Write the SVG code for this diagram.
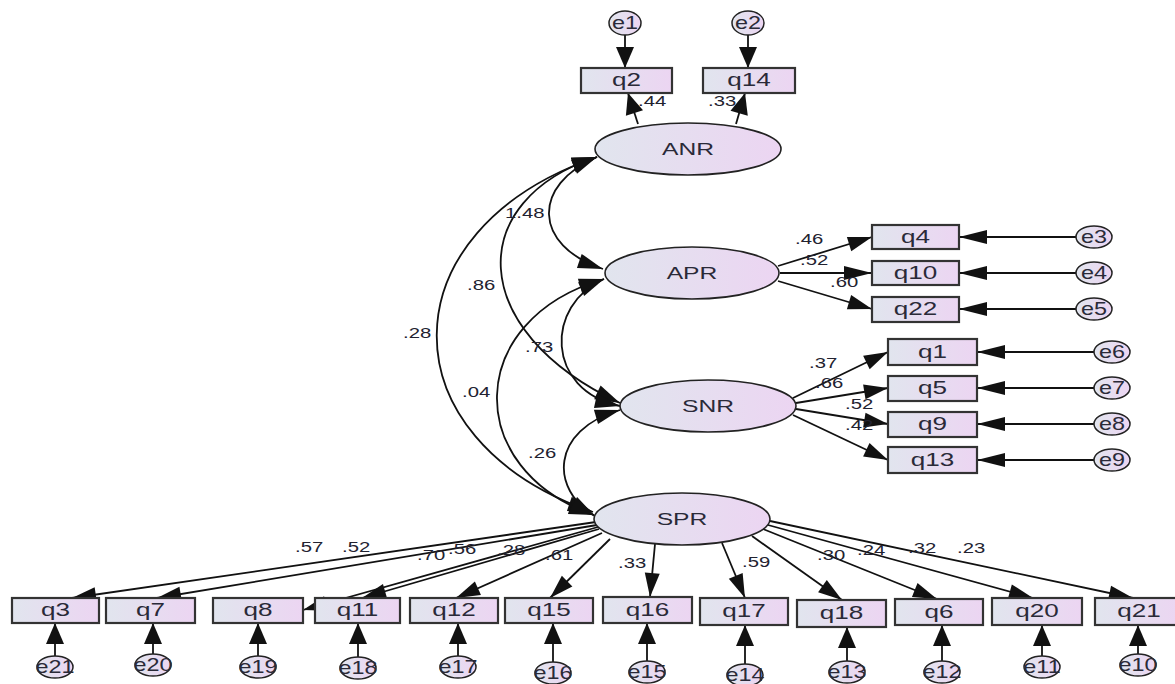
<svg xmlns="http://www.w3.org/2000/svg" width="1175" height="684" viewBox="0 0 1175 684">
<style>
.bx{fill:url(#g);stroke:#333;stroke-width:2.2}
.el{fill:url(#g);stroke:#222;stroke-width:1.6}
.er{fill:url(#g);stroke:#222;stroke-width:1.5}
.c{fill:none;stroke:#111;stroke-width:1.8}
.h{marker-end:url(#ah)}
.v{marker-end:url(#av)}
.d{marker-end:url(#ad)}
.dd{marker-start:url(#ac);marker-end:url(#ac)}
text{font-family:"Liberation Sans",Arial,sans-serif;}
.t{font-size:18px;fill:#2a2a38;text-anchor:middle}
.n{font-size:17px;fill:#2a2a38;text-anchor:middle}
.lb{font-size:14px;fill:#222230}
</style>
<defs>
<linearGradient id="g" x1="0" y1="0" x2="1" y2="0">
<stop offset="0" stop-color="#e1e5ee"/>
<stop offset="1" stop-color="#ecd5f2"/>
</linearGradient>
<marker id="ah" markerUnits="userSpaceOnUse" markerWidth="28" markerHeight="14" refX="28" refY="7" orient="auto" overflow="visible"><path d="M0,0 L28,7 L0,14 z" fill="#111"/></marker>
<marker id="av" markerUnits="userSpaceOnUse" markerWidth="21" markerHeight="18" refX="21" refY="9" orient="auto" overflow="visible"><path d="M0,0 L21,9 L0,18 z" fill="#111"/></marker>
<marker id="ad" markerUnits="userSpaceOnUse" markerWidth="24" markerHeight="15" refX="24" refY="7.5" orient="auto" overflow="visible"><path d="M0,0 L24,7.5 L0,15 z" fill="#111"/></marker>
<marker id="ac" markerUnits="userSpaceOnUse" markerWidth="25" markerHeight="15" refX="25" refY="7.5" orient="auto-start-reverse" overflow="visible"><path d="M0,0 L25,7.5 L0,15 z" fill="#111"/></marker>
</defs>
<rect width="1175" height="684" fill="#fff"/>

<g id="connectors">
<!-- ANR -->
<path class="c v" d="M625,35 L625,68"/>
<path class="c v" d="M748,35 L748,68"/>
<path class="c v" d="M638,124 L628,93"/>
<path class="c v" d="M736,124 L745,93"/>
<!-- covariances -->
<path class="c dd" d="M597,157 C532,185 532,245 603,269"/>
<path class="c dd" d="M597,157 C465,200 465,330 620,403"/>
<path class="c dd" d="M597,157 C384,230 384,440 593,512"/>
<path class="c dd" d="M604,279 C545,305 545,390 620,406"/>
<path class="c dd" d="M604,279 C463,320 463,470 594,515"/>
<path class="c dd" d="M620,410 C550,430 550,490 595,516"/>
<!-- APR -->
<path class="c d" d="M778,266 L872,237"/>
<path class="c h" d="M780,273 L872,273"/>
<path class="c d" d="M778,281 L872,309"/>
<path class="c h" d="M1076,237 L959,237"/>
<path class="c h" d="M1076,273 L959,273"/>
<path class="c h" d="M1076,309 L959,309"/>
<!-- SNR -->
<path class="c d" d="M793,398 L888,352"/>
<path class="c d" d="M796,403 L888,388"/>
<path class="c d" d="M796,409 L888,424"/>
<path class="c d" d="M793,415 L888,460"/>
<path class="c h" d="M1094,352 L977,352"/>
<path class="c h" d="M1094,388 L977,388"/>
<path class="c h" d="M1094,424 L977,424"/>
<path class="c h" d="M1094,460 L977,460"/>
<!-- SPR -->
<path class="c d" d="M596,522 L72,598"/>
<path class="c d" d="M597,525 L157,598"/>
<path class="c d" d="M598,527 L303,610"/>
<path class="c d" d="M599,529 L362,598"/>
<path class="c d" d="M602,533 L456,598"/>
<path class="c d" d="M610,539 L550,598"/>
<path class="c d" d="M655,544 L650,597"/>
<path class="c d" d="M722,543 L745,598"/>
<path class="c d" d="M752,536 L842,600"/>
<path class="c d" d="M763,529 L937,599"/>
<path class="c d" d="M768,525 L1033,598"/>
<path class="c d" d="M770,521 L1133,598"/>
<!-- bottom errors -->
<path class="c v" d="M55,656 L55,623"/>
<path class="c v" d="M153,654 L153,623"/>
<path class="c v" d="M258,656 L258,623"/>
<path class="c v" d="M358,657 L358,623"/>
<path class="c v" d="M458,656 L458,623"/>
<path class="c v" d="M553,662 L553,623"/>
<path class="c v" d="M647,661 L647,623"/>
<path class="c v" d="M745,664 L745,625"/>
<path class="c v" d="M847,661 L847,627"/>
<path class="c v" d="M942,661 L942,625"/>
<path class="c v" d="M1042,656 L1042,625"/>
<path class="c v" d="M1138,654 L1138,625"/>
</g>

<g id="ANR"><ellipse class="el" cx="688" cy="149" rx="93" ry="26"/><text class="n" transform="translate(688 155) scale(1.45 1)">ANR</text></g>
<g id="APR"><ellipse class="el" cx="692" cy="273" rx="87" ry="26"/><text class="n" transform="translate(692 279) scale(1.45 1)">APR</text></g>
<g id="SNR"><ellipse class="el" cx="708" cy="406" rx="88" ry="26"/><text class="n" transform="translate(708 412) scale(1.45 1)">SNR</text></g>
<g id="SPR"><ellipse class="el" cx="682" cy="519" rx="88" ry="26"/><text class="n" transform="translate(682 525) scale(1.45 1)">SPR</text></g>

<g id="q2"><rect class="bx" x="581" y="68" width="91" height="25"/><text class="t" transform="translate(626.5 86) scale(1.45 1)">q2</text></g>
<g id="q14"><rect class="bx" x="703" y="68" width="92" height="25"/><text class="t" transform="translate(749 86) scale(1.45 1)">q14</text></g>
<g id="q4"><rect class="bx" x="872" y="225" width="87" height="24"/><text class="t" transform="translate(915.5 243) scale(1.45 1)">q4</text></g>
<g id="q10"><rect class="bx" x="872" y="261" width="87" height="24"/><text class="t" transform="translate(915.5 279) scale(1.45 1)">q10</text></g>
<g id="q22"><rect class="bx" x="872" y="297" width="87" height="25"/><text class="t" transform="translate(915.5 315) scale(1.45 1)">q22</text></g>
<g id="q1"><rect class="bx" x="888" y="339" width="89" height="26"/><text class="t" transform="translate(932.5 358) scale(1.45 1)">q1</text></g>
<g id="q5"><rect class="bx" x="888" y="376" width="89" height="25"/><text class="t" transform="translate(932.5 394) scale(1.45 1)">q5</text></g>
<g id="q9"><rect class="bx" x="888" y="412" width="89" height="25"/><text class="t" transform="translate(932.5 430) scale(1.45 1)">q9</text></g>
<g id="q13"><rect class="bx" x="888" y="447" width="89" height="26"/><text class="t" transform="translate(932.5 466) scale(1.45 1)">q13</text></g>

<g id="q3"><rect class="bx" x="12" y="598" width="87" height="25"/><text class="t" transform="translate(55.5 616) scale(1.45 1)">q3</text></g>
<g id="q7"><rect class="bx" x="106" y="598" width="89" height="25"/><text class="t" transform="translate(150.5 616) scale(1.45 1)">q7</text></g>
<g id="q8"><rect class="bx" x="213" y="598" width="90" height="25"/><text class="t" transform="translate(258 616) scale(1.45 1)">q8</text></g>
<g id="q11"><rect class="bx" x="315" y="598" width="85" height="25"/><text class="t" transform="translate(357.5 616) scale(1.45 1)">q11</text></g>
<g id="q12"><rect class="bx" x="410" y="598" width="88" height="25"/><text class="t" transform="translate(454 616) scale(1.45 1)">q12</text></g>
<g id="q15"><rect class="bx" x="505" y="598" width="88" height="25"/><text class="t" transform="translate(549 616) scale(1.45 1)">q15</text></g>
<g id="q16"><rect class="bx" x="603" y="597" width="89" height="26"/><text class="t" transform="translate(647.5 616) scale(1.45 1)">q16</text></g>
<g id="q17"><rect class="bx" x="700" y="598" width="88" height="27"/><text class="t" transform="translate(744 617) scale(1.45 1)">q17</text></g>
<g id="q18"><rect class="bx" x="797" y="600" width="89" height="27"/><text class="t" transform="translate(841.5 619) scale(1.45 1)">q18</text></g>
<g id="q6"><rect class="bx" x="895" y="599" width="88" height="26"/><text class="t" transform="translate(939 618) scale(1.45 1)">q6</text></g>
<g id="q20"><rect class="bx" x="992" y="598" width="90" height="27"/><text class="t" transform="translate(1037 617) scale(1.45 1)">q20</text></g>
<g id="q21"><rect class="bx" x="1095" y="598" width="88" height="27"/><text class="t" transform="translate(1139 617) scale(1.45 1)">q21</text></g>

<g id="e1"><ellipse class="er" cx="625" cy="23" rx="16" ry="12"/><text class="t" transform="translate(625 29) scale(1.3 1)">e1</text></g>
<g id="e2"><ellipse class="er" cx="748" cy="23" rx="16" ry="12"/><text class="t" transform="translate(748 29) scale(1.3 1)">e2</text></g>
<g id="e3"><ellipse class="er" cx="1094" cy="237" rx="18" ry="11"/><text class="t" transform="translate(1094 243) scale(1.3 1)">e3</text></g>
<g id="e4"><ellipse class="er" cx="1094" cy="273" rx="18" ry="11"/><text class="t" transform="translate(1094 279) scale(1.3 1)">e4</text></g>
<g id="e5"><ellipse class="er" cx="1094" cy="309" rx="18" ry="11"/><text class="t" transform="translate(1094 315) scale(1.3 1)">e5</text></g>
<g id="e6"><ellipse class="er" cx="1112" cy="352" rx="18" ry="11"/><text class="t" transform="translate(1112 358) scale(1.3 1)">e6</text></g>
<g id="e7"><ellipse class="er" cx="1112" cy="388" rx="18" ry="11"/><text class="t" transform="translate(1112 394) scale(1.3 1)">e7</text></g>
<g id="e8"><ellipse class="er" cx="1112" cy="424" rx="18" ry="11"/><text class="t" transform="translate(1112 430) scale(1.3 1)">e8</text></g>
<g id="e9"><ellipse class="er" cx="1112" cy="460" rx="18" ry="11"/><text class="t" transform="translate(1112 466) scale(1.3 1)">e9</text></g>
<g id="e21"><ellipse class="er" cx="55" cy="667" rx="18" ry="11"/><text class="t" transform="translate(55 673) scale(1.3 1)">e21</text></g>
<g id="e20"><ellipse class="er" cx="153" cy="665" rx="18" ry="11"/><text class="t" transform="translate(153 671) scale(1.3 1)">e20</text></g>
<g id="e19"><ellipse class="er" cx="258" cy="667" rx="18" ry="11"/><text class="t" transform="translate(258 673) scale(1.3 1)">e19</text></g>
<g id="e18"><ellipse class="er" cx="358" cy="668" rx="18" ry="11"/><text class="t" transform="translate(358 674) scale(1.3 1)">e18</text></g>
<g id="e17"><ellipse class="er" cx="458" cy="667" rx="18" ry="11"/><text class="t" transform="translate(458 673) scale(1.3 1)">e17</text></g>
<g id="e16"><ellipse class="er" cx="553" cy="673" rx="18" ry="11"/><text class="t" transform="translate(553 679) scale(1.3 1)">e16</text></g>
<g id="e15"><ellipse class="er" cx="647" cy="672" rx="18" ry="11"/><text class="t" transform="translate(647 678) scale(1.3 1)">e15</text></g>
<g id="e14"><ellipse class="er" cx="745" cy="675" rx="18" ry="11"/><text class="t" transform="translate(745 681) scale(1.3 1)">e14</text></g>
<g id="e13"><ellipse class="er" cx="847" cy="672" rx="18" ry="11"/><text class="t" transform="translate(847 678) scale(1.3 1)">e13</text></g>
<g id="e12"><ellipse class="er" cx="942" cy="672" rx="18" ry="11"/><text class="t" transform="translate(942 678) scale(1.3 1)">e12</text></g>
<g id="e11"><ellipse class="er" cx="1042" cy="667" rx="18" ry="11"/><text class="t" transform="translate(1042 673) scale(1.3 1)">e11</text></g>
<g id="e10"><ellipse class="er" cx="1138" cy="665" rx="18" ry="11"/><text class="t" transform="translate(1138 671) scale(1.3 1)">e10</text></g>

<g id="labels">
<text class="lb" transform="translate(638 106) scale(1.45 1)">.44</text>
<text class="lb" transform="translate(708 106) scale(1.45 1)">.33</text>
<text class="lb" transform="translate(505 218) scale(1.45 1)">1.48</text>
<text class="lb" transform="translate(467 290) scale(1.45 1)">.86</text>
<text class="lb" transform="translate(403 338) scale(1.45 1)">.28</text>
<text class="lb" transform="translate(525 352) scale(1.45 1)">.73</text>
<text class="lb" transform="translate(462 397) scale(1.45 1)">.04</text>
<text class="lb" transform="translate(528 458) scale(1.45 1)">.26</text>
<text class="lb" transform="translate(795 244) scale(1.45 1)">.46</text>
<text class="lb" transform="translate(800 265) scale(1.45 1)">.52</text>
<text class="lb" transform="translate(830 287) scale(1.45 1)">.60</text>
<text class="lb" transform="translate(809 368) scale(1.45 1)">.37</text>
<text class="lb" transform="translate(815 388) scale(1.45 1)">.66</text>
<text class="lb" transform="translate(845 409) scale(1.45 1)">.52</text>
<text class="lb" transform="translate(845 430) scale(1.45 1)">.42</text>
<text class="lb" transform="translate(295 552) scale(1.45 1)">.57</text>
<text class="lb" transform="translate(342 552) scale(1.45 1)">.52</text>
<text class="lb" transform="translate(417 560) scale(1.45 1)">.70</text>
<text class="lb" transform="translate(448 554) scale(1.45 1)">.56</text>
<text class="lb" transform="translate(497 555) scale(1.45 1)">.28</text>
<text class="lb" transform="translate(545 560) scale(1.45 1)">.61</text>
<text class="lb" transform="translate(618 568) scale(1.45 1)">.33</text>
<text class="lb" transform="translate(742 567) scale(1.45 1)">.59</text>
<text class="lb" transform="translate(817 560) scale(1.45 1)">.30</text>
<text class="lb" transform="translate(857 555) scale(1.45 1)">.24</text>
<text class="lb" transform="translate(908 553) scale(1.45 1)">.32</text>
<text class="lb" transform="translate(957 553) scale(1.45 1)">.23</text>
</g>
</svg>
